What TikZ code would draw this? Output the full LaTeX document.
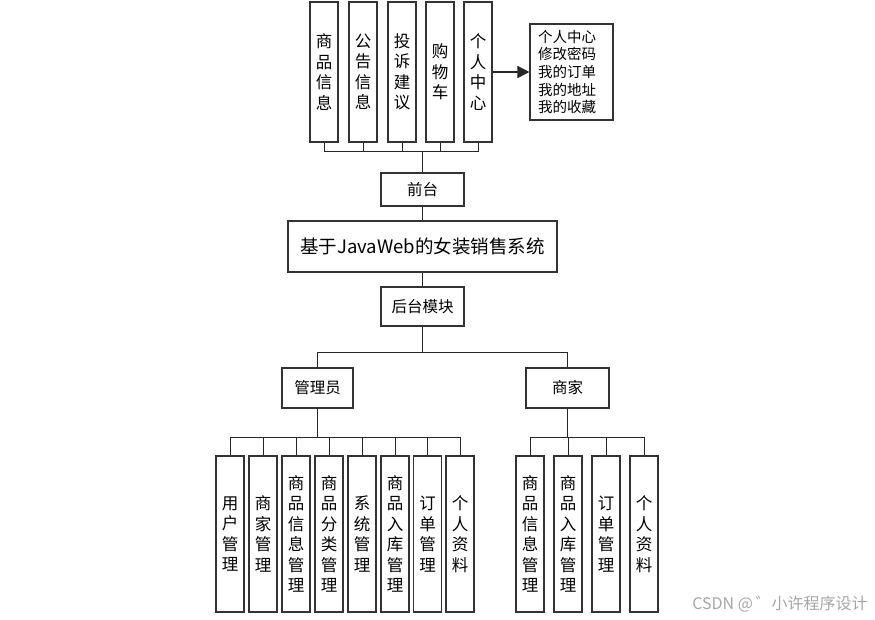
\documentclass[tikz,border=0pt]{standalone}
\usepackage{fontspec}
\setmainfont{Noto Sans CJK SC}
\usetikzlibrary{positioning,arrows.meta}

\begin{document}
\begin{tikzpicture}[x=1pt, y=-1pt,
        every node/.style={font=\fontsize{16.5}{20.5}\selectfont},
        colbox/.style={rectangle, draw=black!80, line width=1.1pt, minimum width=28pt, inner sep=0pt, align=center, fill=white},
        topbox/.style={colbox, minimum height=140pt},
        subbox/.style={colbox, minimum height=156pt},
        box/.style={rectangle, draw=black!80, line width=1.1pt, inner sep=0pt, align=center, fill=white, font=\fontsize{15.5}{18}\selectfont},
        link/.style={draw=black!85, line width=1pt}
    ]
        \useasboundingbox (0,0) rectangle (875,619);

        % Front pages
        \node[topbox] (spxx) at (324,72) {商\\品\\信\\息};
        \node[topbox] (ggxx) at (363,72) {公\\告\\信\\息};
        \node[topbox] (tsjy) at (402,72) {投\\诉\\建\\议};
        \node[topbox] (gwc) at (440,72) {购\\物\\车};
        \node[topbox] (grzx) at (478,72) {个\\人\\中\\心};
        \node[box, minimum width=83pt, minimum height=96pt, text width=67pt, align=left, font=\fontsize{14.5}{17.7}\selectfont] (grzxlist) at (571.5,72) {个人中心\\修改密码\\我的订单\\我的地址\\我的收藏};

        % System
        \node[box, minimum width=83pt, minimum height=33pt] (qt) at (422.5,189.5) {前台};
        \node[box, minimum width=269pt, minimum height=51pt, font=\fontsize{18.5}{22}\selectfont] (xt) at (422.5,246.5) {基于JavaWeb的女装销售系统};
        \node[box, minimum width=83pt, minimum height=39pt] (htmk) at (422.5,306.5) {后台模块};

        % Roles
        \node[box, minimum width=71pt, minimum height=40pt] (gly) at (317.5,388) {管理员};
        \node[box, minimum width=83pt, minimum height=40pt] (sj) at (567.5,388) {商家};

        % Admin modules
        \node[subbox] (yhgl) at (230,534) {用\\户\\管\\理};
        \node[subbox] (sjgl) at (263,534) {商\\家\\管\\理};
        \node[subbox] (spxxgl) at (296,534) {商\\品\\信\\息\\管\\理};
        \node[subbox] (spflgl) at (329,534) {商\\品\\分\\类\\管\\理};
        \node[subbox] (xtgl) at (362,534) {系\\统\\管\\理};
        \node[subbox] (sprkgl) at (395,534) {商\\品\\入\\库\\管\\理};
        \node[subbox] (ddgl) at (427.5,534) {订\\单\\管\\理};
        \node[subbox] (grzl) at (460,534) {个\\人\\资\\料};

        % Seller modules
        \node[subbox] (sjspxx) at (530,534) {商\\品\\信\\息\\管\\理};
        \node[subbox] (sjsprk) at (568,534) {商\\品\\入\\库\\管\\理};
        \node[subbox] (sjdd) at (606,534) {订\\单\\管\\理};
        \node[subbox] (sjgrzl) at (644,534) {个\\人\\资\\料};

        \node[text=black!35, font=\fontsize{16}{18}\selectfont] (csdn) at (780,604) {CSDN @\,゛小许程序设计};

        % Connection
        \draw[link] (qt.north) -- ++(0,-21) -| (spxx.south);
        \draw[link] (qt.north) -- ++(0,-21) -| (ggxx.south);
        \draw[link] (qt.north) -- ++(0,-21) -| (tsjy.south);
        \draw[link] (qt.north) -- ++(0,-21) -| (gwc.south);
        \draw[link] (qt.north) -- ++(0,-21) -| (grzx.south);
        \draw[link, line width=1.6pt, -{Triangle[length=12pt,width=12pt]}] (grzx.east) -- (grzxlist.west);
        \draw[link] (qt.south) -- (xt.north);
        \draw[link] (xt.south) -- (htmk.north);
        \draw[link] (htmk.south) -- ++(0,26) -| (gly.north);
        \draw[link] (htmk.south) -- ++(0,26) -| (sj.north);
        \draw[link] (gly.south) -- ++(0,29) -| (yhgl.north);
        \draw[link] (gly.south) -- ++(0,29) -| (sjgl.north);
        \draw[link] (gly.south) -- ++(0,29) -| (spxxgl.north);
        \draw[link] (gly.south) -- ++(0,29) -| (spflgl.north);
        \draw[link] (gly.south) -- ++(0,29) -| (xtgl.north);
        \draw[link] (gly.south) -- ++(0,29) -| (sprkgl.north);
        \draw[link] (gly.south) -- ++(0,29) -| (ddgl.north);
        \draw[link] (gly.south) -- ++(0,29) -| (grzl.north);
        \draw[link] (sj.south) -- ++(0,29) -| (sjspxx.north);
        \draw[link] (sj.south) -- ++(0,29) -| (sjsprk.north);
        \draw[link] (sj.south) -- ++(0,29) -| (sjdd.north);
        \draw[link] (sj.south) -- ++(0,29) -| (sjgrzl.north);
    \end{tikzpicture}
\end{document}
